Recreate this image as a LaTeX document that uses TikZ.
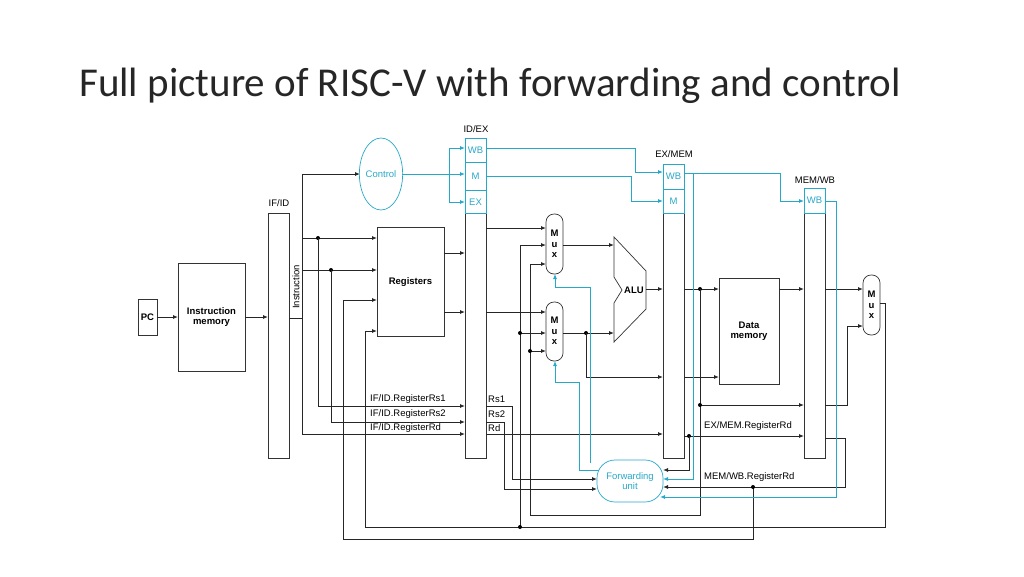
\documentclass[tikz,border=0pt]{standalone}
\usepackage{fontspec}
\setmainfont{Liberation Sans}
\newfontfamily\titlefont{Carlito}
\usetikzlibrary{arrows.meta,shapes.geometric}
\definecolor{cb}{RGB}{38,168,200}
\begin{document}
\begin{tikzpicture}[x=1pt,y=-1pt,
  box/.style={draw=black!80,line width=0.7pt},
  w/.style={line width=0.9pt,draw=black!85},
  a/.style={w,-{Latex[length=5pt,width=4pt]}},
  b/.style={line width=0.9pt,draw=cb},
  ba/.style={b,-{Latex[length=5pt,width=4pt]}},
  dot/.style={circle,fill=black,inner sep=0pt,minimum size=4pt},
  lbl/.style={font=\fontsize{9.5}{10.5}\selectfont,inner sep=0pt},
  bl/.style={font=\fontsize{9.5}{10.5}\selectfont\bfseries,inner sep=0pt,align=center},
  mux/.style={draw=black!80,line width=0.7pt,rounded corners=8pt}]
\useasboundingbox (0,0) rectangle (1024,576);
\node[anchor=west,font=\titlefont\fontsize{41}{44}\selectfont,inner sep=0pt,text=black!85] (title) at (79,86) {Full picture of RISC-V with forwarding and control};
% boxes
\draw[box] (138,299) rectangle (157,335); \node[bl] (pc) at (147.5,317) {PC};
\draw[box] (178,263) rectangle (245,371); \node[bl] (im) at (211.5,317) {Instruction\\memory};
\draw[box] (268,213) rectangle (289,458); \node[lbl] (ifid) at (279,203) {IF/ID};
\node[lbl,rotate=90] (instr) at (296,287) {Instruction};
\draw[box] (377,227) rectangle (444,336); \node[bl] (regs) at (410.5,282) {Registers};
\draw[box] (465,138) rectangle (486,458); \node[lbl] (idex) at (476,129) {ID/EX};
\draw[box,draw=cb] (465,138) rectangle (486,213); \draw[box,draw=cb] (465,162)--(486,162) (465,190)--(486,190);
\node[lbl,text=cb] (idwb) at (475.5,150) {WB}; \node[lbl,text=cb] (idm) at (475.5,176) {M}; \node[lbl,text=cb] (idexx) at (475.5,202) {EX};
\draw[box] (663,164) rectangle (684,458); \node[lbl] (exmem) at (674,154) {EX/MEM};
\draw[box,draw=cb] (663,164) rectangle (684,213); \draw[box,draw=cb] (663,189)--(684,189);
\node[lbl,text=cb] (emwb) at (673.5,176.5) {WB}; \node[lbl,text=cb] (emm) at (673.5,201) {M};
\draw[box] (804,188) rectangle (825,458); \node[lbl] (memwb) at (815,180) {MEM/WB};
\draw[box,draw=cb] (804,188) rectangle (825,213); \node[lbl,text=cb] (mwwb) at (814.5,200.5) {WB};
\draw[box] (719,278) rectangle (779,384); \node[bl] (dm) at (749,331) {Data\\memory};
\node[draw=cb,line width=0.7pt,ellipse,minimum width=42pt,minimum height=72pt,inner sep=0pt,text=cb,font=\fontsize{9.5}{10.5}\selectfont] (ctrl) at (381,174) {Control};
\draw[draw=cb,line width=0.7pt,rounded corners=18pt] (597,460) rectangle (663,502);
\node[lbl,text=cb,align=center] (fwd) at (630,481) {Forwarding\\unit};
\draw[mux] (546,214) rectangle (563,274); \node[bl] (mux1) at (554.5,244) {M\\u\\x};
\draw[mux] (546,302) rectangle (563,361); \node[bl] (mux2) at (554.5,331) {M\\u\\x};
\draw[mux] (863,275) rectangle (880,335); \node[bl] (mux3) at (871.5,305) {M\\u\\x};
\draw[box] (614,237)--(646,271)--(646,309)--(614,342)--(614,303)--(622,290)--(614,277)--cycle;
\node[bl] (alu) at (634,290) {ALU};
% labels
\node[lbl,anchor=west] at (370,399) {IF/ID.RegisterRs1};
\node[lbl,anchor=west] at (370,414) {IF/ID.RegisterRs2};
\node[lbl,anchor=west] at (370,428) {IF/ID.RegisterRd};
\node[lbl,anchor=west] at (488,399) {Rs1};
\node[lbl,anchor=west] at (488,414) {Rs2};
\node[lbl,anchor=west] at (488,428) {Rd};
\node[lbl,anchor=west] at (704,426) {EX/MEM.RegisterRd};
\node[lbl,anchor=west] at (704,477) {MEM/WB.RegisterRd};
% black wires
\draw[a] (157,317)--(178,317);
\draw[a] (245,317)--(268,317);
\draw[w] (289,318)--(302,318);
\draw[a] (302,434)--(302,174)--(360,174);
\draw[a] (302,238)--(377,238);
\draw[a] (302,270)--(377,270);
\node[dot] at (318,238) {}; \node[dot] at (331,270) {};
\draw[a] (318,238)--(318,406)--(465,406);
\draw[a] (331,270)--(331,422)--(465,422);
\draw[a] (302,434)--(465,434);
\draw[a] (343,539)--(343,300)--(377,300);
\draw[a] (365,527)--(365,331)--(377,331);
\draw[a] (444,253)--(465,253);
\draw[a] (444,312)--(465,312);
\draw[a] (486,228)--(546,228);
\draw[a] (486,312)--(546,312);
\draw[a] (520,527)--(520,245)--(546,245);
\draw[a] (530,515)--(530,264)--(546,264);
\draw[a] (520,333)--(546,333); \node[dot] at (520,333) {};
\draw[a] (530,351)--(546,351); \node[dot] at (530,351) {};
\draw[a] (563,245)--(614,245);
\draw[a] (563,333)--(614,333); \node[dot] at (586,333) {};
\draw[a] (586,333)--(586,377)--(663,377);
\draw[a] (646,289)--(663,289);
\draw[a] (684,289)--(719,289); \node[dot] at (700,289) {};
\draw[w] (700,289)--(700,515)--(530,515);
\draw[a] (700,405)--(804,405); \node[dot] at (700,405) {};
\draw[a] (684,377)--(719,377);
\draw[a] (486,434)--(663,434);
\draw[a] (779,289)--(804,289);
\draw[a] (825,289)--(863,289);
\draw[a] (825,405)--(847,405)--(847,326)--(863,326);
\draw[a] (684,436)--(804,436); \node[dot] at (689,436) {};
\draw[a] (689,436)--(689,470)--(663,470);
\draw[a] (825,438)--(845,438)--(845,487)--(663,487);
\draw[w] (880,303)--(885,303)--(885,527)--(365,527); \node[dot] at (520,527) {};
\draw[w] (753,487)--(753,539)--(343,539); \node[dot] at (753,487) {};
\draw[a] (486,406)--(512,406)--(512,479)--(597,479);
\draw[a] (486,422)--(504,422)--(504,489)--(597,489);
% blue wires
\draw[b] (402,174)--(449,174);
\draw[ba] (449,174)--(465,174);
\draw[ba] (449,148)--(449,202)--(465,202);
\draw[ba] (449,148)--(465,148);
\draw[ba] (486,148)--(635,148)--(635,172)--(663,172);
\draw[ba] (486,176)--(631,176)--(631,201)--(663,201);
\draw[ba] (684,173)--(780,173)--(780,201)--(804,201);
\draw[ba] (693,173)--(693,479)--(663,479);
\draw[ba] (825,201)--(836,201)--(836,497)--(660,497);
\draw[ba] (590,463)--(590,287)--(555,287)--(555,274);
\draw[ba] (599,470)--(579,470)--(579,382)--(555,382)--(555,361);
\end{tikzpicture}
\end{document}
